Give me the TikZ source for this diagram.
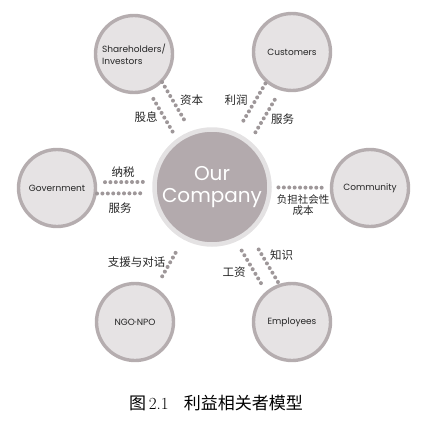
\documentclass[tikz,border=0pt]{standalone}
\usepackage{fontspec}
\newfontfamily\cjk{Noto Sans CJK SC}
\newfontfamily\gothic{Poppins}
\usetikzlibrary{calc}
\definecolor{ringgray}{HTML}{B5ADAF}
\definecolor{discgray}{HTML}{E6E3E4}
\definecolor{coregray}{HTML}{B3AAAD}
\definecolor{halogray}{HTML}{E4E2E3}
\definecolor{dotgray}{HTML}{9E9799}

\tikzset{
  party/.style={circle, draw=ringgray, fill=discgray, line width=3.4pt,
    minimum size=77pt, inner sep=0pt, text=black!85,
    font=\gothic\fontsize{9}{12}\selectfont},
  core/.style={circle, draw=halogray, fill=coregray, line width=4.5pt,
    minimum size=115pt, inner sep=0pt, align=center, text=white,
    font=\gothic\fontsize{20}{22}\selectfont},
  dotlink/.style={dotgray, line width=4pt, line cap=round,
    dash pattern=on 0pt off 5.4pt},
  tag/.style={font=\cjk\fontsize{11.5}{12}\selectfont, text=black!85, inner sep=0pt},
}

\begin{document}
\begin{tikzpicture}[x=1pt, y=-1pt]
  \useasboundingbox (0,0) rectangle (430,420);
  % Company and its stakeholders
  \node[core] (co) at (212,187) {Our\\Company};
  \node[party, align=left] (sh) at (134,54) {Shareholders/\\Investors};
  \node[party] (cu) at (292,52) {Customers};
  \node[party] (gov) at (57,188) {Government};
  \node[party] (com) at (370,188) {Community};
  \node[party] (ngo) at (135,322) {NGO·NPO};
  \node[party] (emp) at (292,322) {Employees};
  % Dotted exchange lines
  \foreach \a/\ts/\te/\off in {sh/.249/.545/10, sh/.315/.586/-6,
      cu/.259/.540/-6.8, cu/.318/.581/9.5, gov/.310/.587/5.5, gov/.258/.555/-5.8,
      com/.306/.582/0, ngo/.342/.544/-1, emp/.314/.575/6.9, emp/.265/.534/-8.3}
    \draw[dotlink] ($(\a)!\ts!(co)!\off pt!90:(co)$) -- ($(\a)!\te!(co)!\off pt!90:(co)$);
  % Labels
  \node[tag] (capital) at (191.7,100) {资本};
  \node[tag] (dividend) at (146,117.3) {股息};
  \node[tag] (profit) at (236,100) {利润};
  \node[tag] (service1) at (282.7,119.3) {服务};
  \node[tag] (tax) at (123,171.7) {纳税};
  \node[tag] (service2) at (120,208.3) {服务};
  \node[tag, align=center, font=\cjk\fontsize{10.5}{11.5}\selectfont] (cost) at (303,205) {负担社会性\\成本};
  \node[tag] (support) at (136.7,261.7) {支援与对话};
  \node[tag] (know) at (281.7,255) {知识};
  \node[tag] (wage) at (234,271.7) {工资};
  % Caption
  \node[font=\fontsize{17}{18}\selectfont] (cap) at (216,403)
    {{\cjk 图}\,2.1\hspace{0.9em}{\cjk 利益相关者模型}};
\end{tikzpicture}
\end{document}
